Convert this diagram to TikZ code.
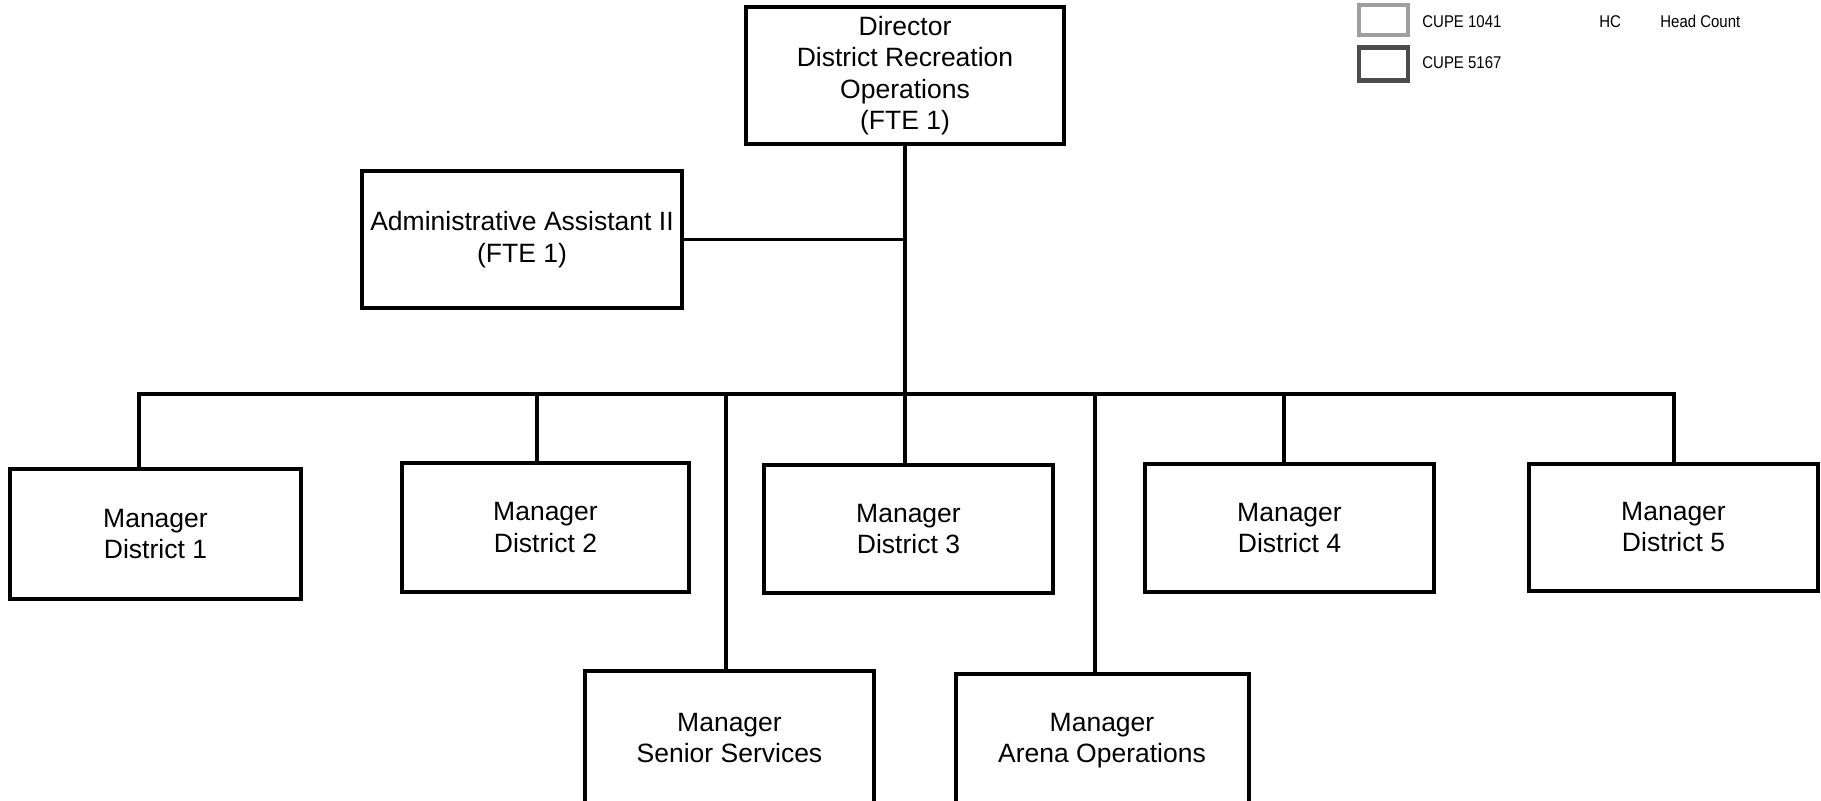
\documentclass[tikz,border=0pt]{standalone}
\usepackage{fontspec}
\setmainfont{Liberation Sans}
\newfontfamily\legendfont[FakeStretch=0.88]{Liberation Sans}
\begin{document}
\begin{tikzpicture}[x=0.5pt,y=-0.5pt,
  orgbox/.style={draw, line width=2pt, inner sep=0pt, align=center,
    font=\fontsize{13.25pt}{15.75pt}\selectfont,
    execute at begin node={\rule{0pt}{12.3pt}}},
  link/.style={line width=1.75pt},
  legendtext/.style={anchor=west, inner sep=0pt, font=\legendfont\fontsize{8.5pt}{10pt}\selectfont}]
\useasboundingbox (0,0) rectangle (1821,800);
\clip (0,0) rectangle (1821,800);
\fill[white] (0,0) rectangle (1821,800);

% boxes
\node[orgbox, minimum width=159pt, minimum height=68.5pt] (dir) at (905,75.5)
  {Director\\District Recreation\\Operations\\(FTE 1)};
\node[orgbox, minimum width=160pt, minimum height=68.5pt] (admin) at (522,239.5)
  {Administrative Assistant II\\(FTE 1)};
\node[orgbox, minimum width=145.5pt, minimum height=65pt] (d1) at (155.5,534)
  {Manager\\District 1};
\node[orgbox, minimum width=143.5pt, minimum height=64.5pt] (d2) at (545.5,527.5)
  {Manager\\District 2};
\node[orgbox, minimum width=144.5pt, minimum height=64pt] (d3) at (908.5,529)
  {Manager\\District 3};
\node[orgbox, minimum width=144.5pt, minimum height=64pt] (d4) at (1289.5,528)
  {Manager\\District 4};
\node[orgbox, minimum width=144.5pt, minimum height=63.5pt] (d5) at (1673.5,527)
  {Manager\\District 5};
\node[orgbox, minimum width=144.5pt, minimum height=67pt] (ss) at (729.5,738)
  {Manager\\Senior Services};
\node[orgbox, minimum width=146.5pt, minimum height=67pt] (ar) at (1102,740.5)
  {Manager\\Arena Operations};

% bus coordinates
\coordinate (b1) at (139,394);
\coordinate (b2) at (537,394);
\coordinate (bs) at (726,394);
\coordinate (b3) at (905,394);
\coordinate (ba) at (1095,394);
\coordinate (b4) at (1284,394);
\coordinate (b5) at (1674,394);

% connectors
\draw[link] (dir.south) -- (b3);
\draw[link] (admin.east) -- (admin.east -| dir.south);
\draw[link] (d1.north -| b1) -- (b1) -- (b5) -- (d5.north -| b5);
\draw[link] (b2) -- (d2.north -| b2);
\draw[link] (bs) -- (ss.north -| bs);
\draw[link] (b3) -- (d3.north -| b3);
\draw[link] (ba) -- (ar.north -| ba);
\draw[link] (b4) -- (d4.north -| b4);

% legend
\node[draw=gray!75, line width=2.2pt, fill=white, minimum width=24.5pt, minimum height=15pt, inner sep=0pt] (lg1) at (1383.5,20) {};
\node[draw=black!70, line width=2.4pt, fill=white, minimum width=24.5pt, minimum height=16.5pt, inner sep=0pt] (lg2) at (1383.5,64) {};
\node[legendtext] (t1) at (1422,21.5) {CUPE 1041};
\node[legendtext] (t2) at (1422,63) {CUPE 5167};
\node[legendtext] (t3) at (1599,21.5) {HC};
\node[legendtext] (t4) at (1660,21.5) {Head Count};
\end{tikzpicture}
\end{document}
